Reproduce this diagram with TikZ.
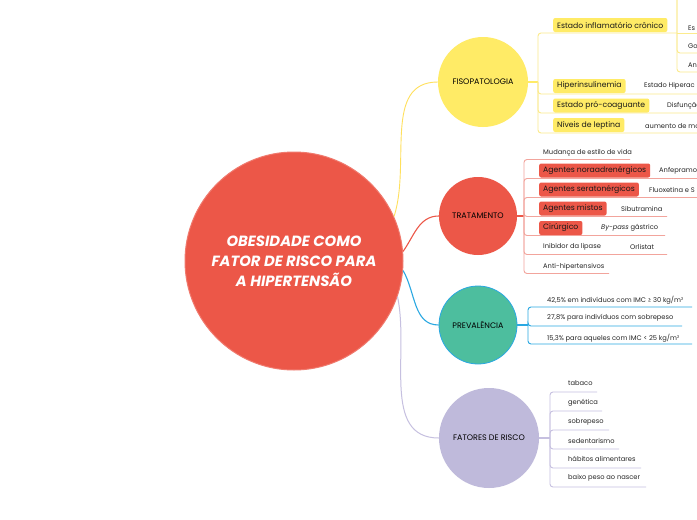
\documentclass[tikz,border=0pt]{standalone}
\usepackage{fontspec}
\setmainfont{Poppins}
\definecolor{cred}{HTML}{EC5748}
\definecolor{cyel}{HTML}{FFEB66}
\definecolor{cteal}{HTML}{4DBE9E}
\definecolor{cblue}{HTML}{2AA8E2}
\definecolor{clav}{HTML}{BFBADB}
\definecolor{lyel}{HTML}{FCEB8C}
\definecolor{lred}{HTML}{F2A49C}
\definecolor{llav}{HTML}{C6C0E0}
\begin{document}
\begin{tikzpicture}[x=1pt,y=-1pt,
  sub/.style={circle, inner sep=0pt, font=\fontsize{8}{9}\selectfont, text=black},
  txt/.style={anchor=west, inner sep=0pt, font=\fontsize{6.7}{7}\selectfont, text=black!85},
  lbox/.style={anchor=west, inner xsep=4pt, inner ysep=0pt, minimum height=14pt, rounded corners=2pt, font=\fontsize{7.7}{8}\selectfont, text=black!90},
  ybox/.style={lbox, fill=cyel},
  rbox/.style={lbox, fill=cred},
  yl/.style={draw=lyel, line width=0.9pt, rounded corners=3pt},
  rl/.style={draw=lred, line width=0.9pt, rounded corners=3pt},
  bl/.style={draw=cblue, line width=0.9pt, rounded corners=3pt},
  vl/.style={draw=llav, line width=0.9pt, rounded corners=3pt}]
\useasboundingbox (0,0) rectangle (697,520);
\fill[white] (0,0) rectangle (697,520);
\clip (0,0) rectangle (697,520);

% central topic
\node[circle, fill=cred, draw=cred!80!white, line width=1pt, minimum size=218pt, inner sep=0pt,
  text=white, align=center, font=\fontsize{14.8}{20}\selectfont\bfseries\itshape] (c) at (294,261)
  {OBESIDADE COMO\\FATOR DE RISCO PARA\\A HIPERTENSÃO};

% main topics
\node[sub, fill=cyel, minimum size=90pt] (f) at (483,82) {FISOPATOLOGIA};
\node[sub, fill=cred, minimum size=78pt] (t) at (478,216) {TRATAMENTO};
\node[sub, fill=cteal, draw=cblue, line width=0.8pt, minimum size=78pt] (p) at (478,325) {PREVALÊNCIA};
\node[sub, fill=clav, minimum size=100pt] (r) at (489,438) {FATORES DE RISCO};

% connectors from centre
\draw[draw=cyel!90!orange, line width=0.9pt] (c.24) to[out=72,in=180] (f.west);
\draw[draw=cred, line width=1.1pt] (c.5) to[out=55,in=180] (t.west);
\draw[draw=cblue, line width=1.1pt] (c.-5) to[out=-60,in=180] (p.west);
\draw[draw=llav, line width=1pt] (c.-19) to[out=-78,in=180] (r.west);

% ---------- FISOPATOLOGIA ----------
\coordinate (fb) at (538,82);
\draw[draw=cyel, line width=1.2pt] (f.east) -- (fb);
\node[ybox] (f1) at (553,25) {Estado inflamatório crônico};
\draw[yl] (fb) |- (677,33);
\coordinate (fs) at (677,-5);
\draw[yl] (677,33) -- (697,33);
\draw[yl] (fs) |- (697,53);
\draw[yl] (fs) |- (697,72);
\node[txt] (f1a) at (688,28) {Es};
\node[txt] (f1b) at (688,46) {Go};
\node[txt] (f1c) at (688,65) {An};

\node[ybox] (f2) at (553,86) {Hiperinsulinemia};
\draw[yl] (fb) |- (697,94);
\node[txt] (f2a) at (644,86) {Estado Hiperac};

\node[ybox] (f3) at (553,105.5) {Estado pró-coaguante};
\draw[yl] (fb) |- (697,113);
\node[txt] (f3a) at (667,106) {Disfunção};

\node[ybox] (f4) at (553,125) {Níveis de leptina};
\draw[yl] (fb) |- (697,133);
\node[txt] (f4a) at (645,126) {aumento de mo};

% ---------- TRATAMENTO ----------
\coordinate (tb) at (524,216);
\draw[draw=cred, line width=1.4pt] (t.east) -- (tb);
\node[txt] (t1) at (543,152.5) {Mudança de estilo de vida};
\draw[rl] (tb) |- (630,159.5);
\node[rbox] (t2) at (539,170.5) {Agentes noraadrenérgicos};
\draw[rl] (tb) |- (697,178.5);
\node[txt] (t2a) at (659,171) {Anfepramo};
\node[rbox] (t3) at (539,189.5) {Agentes seratonérgicos};
\draw[rl] (tb) |- (697,197.5);
\node[txt] (t3a) at (649,190) {Fluoxetina e S};
\node[rbox] (t4) at (539,208.5) {Agentes mistos};
\draw[rl] (tb) |- (667,216.5);
\node[txt] (t4a) at (621,209) {Sibutramina};
\node[rbox] (t5) at (539,228) {Cirúrgico};
\draw[rl] (tb) |- (665,235.5);
\node[txt] (t5a) at (601,228) {\textit{By-pass} gástrico};
\node[txt] (t6) at (543,247) {Inibidor da lipase};
\draw[rl] (tb) |- (667,254.5);
\node[txt] (t6a) at (630,247) {Orlistat};
\node[txt] (t7) at (543,266.5) {Anti-hipertensivos};
\draw[rl] (tb) |- (609,273.5);

% ---------- PREVALÊNCIA ----------
\coordinate (pb) at (528,325);
\draw[draw=cblue, line width=1.2pt] (p.east) -- (pb);
\node[txt] (p1) at (547,300) {42,5\% em indivíduos com IMC ≥ 30 kg/m²};
\draw[bl] (pb) |- (692,307);
\node[txt] (p2) at (547,318) {27,8\% para indivíduos com sobrepeso};
\draw[bl] (pb) |- (682,326);
\node[txt] (p3) at (547,338) {15,3\% para aqueles com IMC < 25 kg/m²};
\draw[bl] (pb) |- (692,344);

% ---------- FATORES DE RISCO ----------
\coordinate (rb) at (550,438);
\draw[draw=llav, line width=1.2pt] (r.east) -- (rb);
\node[txt] (r1) at (568,383) {tabaco};
\draw[vl] (rb) |- (597,392);
\node[txt] (r2) at (568,402.5) {genética};
\draw[vl] (rb) |- (602,411);
\node[txt] (r3) at (568,421.5) {sobrepeso};
\draw[vl] (rb) |- (609,430);
\node[txt] (r4) at (568,440.5) {sedentarismo};
\draw[vl] (rb) |- (619,449);
\node[txt] (r5) at (568,459) {hábitos alimentares};
\draw[vl] (rb) |- (641,468);
\node[txt] (r6) at (568,478) {baixo peso ao nascer};
\draw[vl] (rb) |- (646,487);
\end{tikzpicture}
\end{document}
